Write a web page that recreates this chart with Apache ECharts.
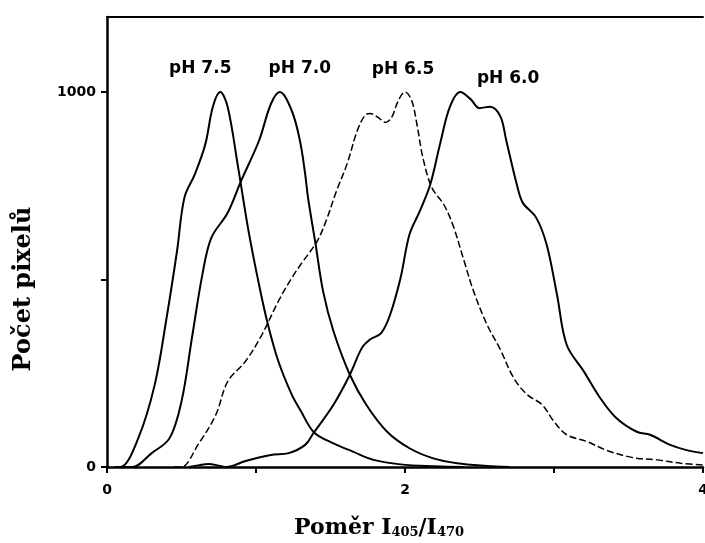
<!DOCTYPE html>
<html>
<head>
<meta charset="utf-8">
<script src="https://cdn.jsdelivr.net/npm/echarts@6/dist/echarts.min.js"></script>
<style>
  html, body { margin: 0; padding: 0; background: #fff; }
  #chart { width: 705px; height: 543px; }
</style>
</head>
<body>
<div id="chart"></div>
<script>
// Histogram curves of the I405/I470 ratio (pixel counts) at four pH values
const ph75 = [[0.05,0],[0.09,0],[0.21,77],[0.32,219],[0.40,398],[0.47,576],[0.52,719],[0.59,781],[0.66,861],[0.71,960],[0.76,1000],[0.81,960],[0.88,799],[0.95,629],[1.02,487],[1.08,380],[1.15,282],[1.24,193],[1.30,150],[1.39,92],[1.52,63],[1.65,41],[1.79,19],[1.97,7],[2.2,2],[2.4,0]];
const ph70 = [[0.10,0],[0.17,0],[0.30,37],[0.42,77],[0.50,175],[0.57,344],[0.64,513],[0.70,611],[0.81,678],[0.90,763],[1.02,870],[1.10,968],[1.16,1000],[1.24,950],[1.295,870],[1.33,781],[1.35,716],[1.40,594],[1.45,469],[1.52,362],[1.63,246],[1.74,166],[1.88,94],[2.03,50],[2.19,23],[2.35,10],[2.55,3],[2.7,0]];
const ph65 = [[0.45,0],[0.50,0],[0.61,59],[0.73,139],[0.81,228],[0.93,282],[1.04,353],[1.15,442],[1.24,504],[1.30,540],[1.41,602],[1.47,656],[1.54,736],[1.61,807],[1.68,897],[1.73,937],[1.765,943],[1.82,932],[1.87,919],[1.91,932],[1.955,977],[2.0,1000],[2.045,977],[2.08,914],[2.12,825],[2.18,745],[2.26,700],[2.32,647],[2.39,558],[2.46,469],[2.55,380],[2.64,313],[2.73,237],[2.82,193],[2.92,166],[3.0,121],[3.085,86],[3.22,68],[3.35,45],[3.53,25],[3.69,19],[3.85,10],[4.0,5]];
const ph60 = [[0.55,0],[0.62,5],[0.68,8],[0.76,3],[0.80,0],[0.93,16],[1.10,32],[1.22,37],[1.33,59],[1.385,90],[1.52,166],[1.63,246],[1.71,317],[1.765,340],[1.84,357],[1.90,406],[1.97,504],[2.03,620],[2.10,683],[2.17,754],[2.235,861],[2.30,959],[2.37,1000],[2.44,981],[2.50,957],[2.57,961],[2.64,935],[2.68,870],[2.75,754],[2.79,705],[2.88,665],[2.95,594],[3.02,460],[3.085,326],[3.20,255],[3.31,184],[3.42,130],[3.555,94],[3.645,86],[3.78,59],[3.89,45],[4.0,37]];

const seriesNames = ['pH 7.5', 'pH 7.0', 'pH 6.5', 'pH 6.0'];
const xTickValues = [0, 1, 2, 3, 4];
const xLabelValues = [0, 2, 4];
const yTickValues = [0, 500, 1000];
const yLabelValues = [0, 1000];

// label placement relative to each curve's peak (pixels)
const labelOffsets = [[-20, -23], [20, -23], [-2, -22], [48, -13]];
const dashStyles = ['solid', 'solid', [7, 3], 'solid'];
const lineWidths = [2, 2, 1.5, 2];

function peakOf(points) {
  return points.reduce((best, p) => (p[1] > best[1] ? p : best), points[0]);
}

const chart = echarts.init(document.getElementById('chart'), null, { renderer: 'canvas' });

const curves = [ph75, ph70, ph65, ph60];
const series = curves.map((pts, i) => ({
  name: seriesNames[i],
  type: 'line',
  data: pts,
  smooth: 0.35,
  showSymbol: false,
  silent: true,
  lineStyle: { color: '#000', width: lineWidths[i], type: dashStyles[i] },
  markPoint: {
    symbol: 'circle',
    symbolSize: 0,
    silent: true,
    data: [{ coord: peakOf(pts) }],
    label: {
      show: true,
      formatter: seriesNames[i],
      position: 'inside',
      offset: labelOffsets[i],
      color: '#000',
      fontFamily: 'DejaVu Sans',
      fontWeight: 'bold',
      fontSize: 17
    }
  }
}));

const tickFont = { color: '#000', fontFamily: 'DejaVu Sans', fontWeight: 'bold', fontSize: 14 };
const plainNumber = v => String(v);

chart.setOption({
  animation: false,
  backgroundColor: '#fff',
  grid: { left: 107, right: 2, top: 17, bottom: 76, outerBoundsMode: 'none', containLabel: false },
  xAxis: [{
    type: 'value',
    min: 0, max: 4, interval: 1,
    axisLine: { show: true, onZero: false, lineStyle: { color: '#000', width: 2.5 } },
    axisTick: { show: true, length: 6, customValues: xTickValues, lineStyle: { color: '#000', width: 2 } },
    axisLabel: Object.assign({ customValues: xLabelValues, margin: 16, formatter: plainNumber }, tickFont),
    splitLine: { show: false }
  }, {
    type: 'value',
    position: 'top',
    min: 0, max: 4,
    axisLine: { show: true, onZero: false, lineStyle: { color: '#000', width: 2 } },
    axisTick: { show: false },
    axisLabel: { show: false },
    splitLine: { show: false }
  }],
  yAxis: {
    type: 'value',
    min: 0, max: 1200, interval: 500,
    axisLine: { show: true, onZero: false, lineStyle: { color: '#000', width: 2.5 } },
    axisTick: { show: true, length: 6, customValues: yTickValues, lineStyle: { color: '#000', width: 2 } },
    axisLabel: Object.assign({ customValues: yLabelValues, margin: 11, formatter: plainNumber }, tickFont),
    splitLine: { show: false }
  },
  graphic: [{
    type: 'text',
    left: 294,
    top: 517,
    style: {
      text: '{m|Poměr I}{s|405}{m|/I}{s|470}',
      fill: '#000',
      rich: {
        m: { fontFamily: 'DejaVu Serif', fontWeight: 'bold', fontSize: 22, lineHeight: 26, verticalAlign: 'bottom', fill: '#000' },
        s: { fontFamily: 'DejaVu Serif', fontWeight: 'bold', fontSize: 13, lineHeight: 17, verticalAlign: 'bottom', fill: '#000' }
      }
    }
  }, {
    type: 'text',
    x: 24,
    y: 289,
    rotation: Math.PI / 2,
    style: {
      text: 'Počet pixelů',
      fill: '#000',
      font: 'bold 24px "DejaVu Serif"',
      align: 'center',
      verticalAlign: 'middle'
    }
  }],
  series: series
});
</script>
</body>
</html>
